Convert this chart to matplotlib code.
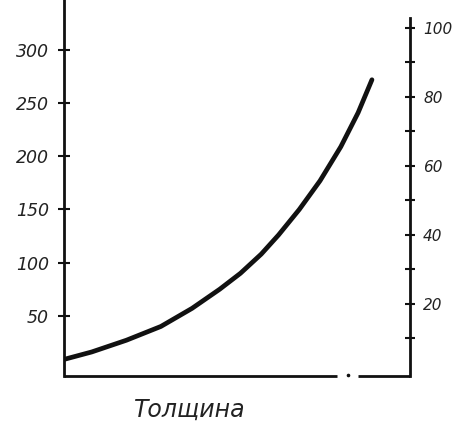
import matplotlib
matplotlib.use("Agg")
import matplotlib.pyplot as plt

# Data (x in arbitrary thickness units 0..100)
thickness = [0, 8, 18, 28, 37, 45, 51, 57, 62, 68, 74, 80, 85, 89]
values = [9, 16, 27, 40, 57, 75, 90, 108, 126, 150, 177, 209, 241, 272]

left_ticks = [50, 100, 150, 200, 250, 300]
right_major = [20, 40, 60, 80, 100]
right_minor = [10, 30, 50, 70, 90]
xlabel = "Толщина"

ink = "#111111"
fig = plt.figure(figsize=(4.6, 4.4), dpi=100)
ax = fig.add_axes([64 / 460, 1 - 376 / 440, (410 - 64) / 460, 376 / 440])
ax2 = ax.twinx()

ax.plot(thickness, values, color=ink, lw=3.4, solid_capstyle="round",
        solid_joinstyle="round")

ax.set_xlim(0, 100)
ax.set_ylim(-6.6, 347)
ax2.set_ylim(-0.9, 108.1)

for a in (ax, ax2):
    a.spines["top"].set_visible(False)
    for s in a.spines.values():
        s.set_linewidth(2.0)
        s.set_color(ink)
    a.set_xticks([])

ax.spines["right"].set_visible(False)
ax.spines["bottom"].set_visible(False)
ax2.spines["left"].set_visible(False)
ax2.spines["bottom"].set_visible(False)
ax2.spines["right"].set_bounds(-0.9, 103)

# broken baseline as in the scan
ax.plot([0, 0.789], [0, 0], transform=ax.transAxes, color=ink, lw=2.0,
        clip_on=False, solid_capstyle="butt")
ax.plot([0.85, 1.0], [0, 0], transform=ax.transAxes, color=ink, lw=2.0,
        clip_on=False, solid_capstyle="butt")
ax.plot([0.821], [0.003], transform=ax.transAxes, marker="o", ms=1.6,
        color=ink, clip_on=False)

ax.set_yticks(left_ticks)
ax.set_yticklabels([str(t) for t in left_ticks])
ax.tick_params(axis="y", direction="inout", length=8, width=1.5, color=ink,
               pad=7, labelsize=12.5, labelcolor="#222222")
for lab in ax.get_yticklabels():
    lab.set_fontstyle("italic")

ax2.set_yticks(right_major)
ax2.set_yticklabels([str(t) for t in right_major])
ax2.set_yticks(right_minor, minor=True)
ax2.tick_params(axis="y", which="both", direction="inout", length=7, width=1.5,
                color=ink, pad=6, labelsize=11, labelcolor="#222222")
for lab in ax2.get_yticklabels():
    lab.set_fontstyle("italic")

fig.text(190 / 460, 1 - 410 / 440, xlabel, ha="center", va="center",
         fontsize=17, fontstyle="italic", color="#222222")

fig.savefig("out.png", dpi=100)
